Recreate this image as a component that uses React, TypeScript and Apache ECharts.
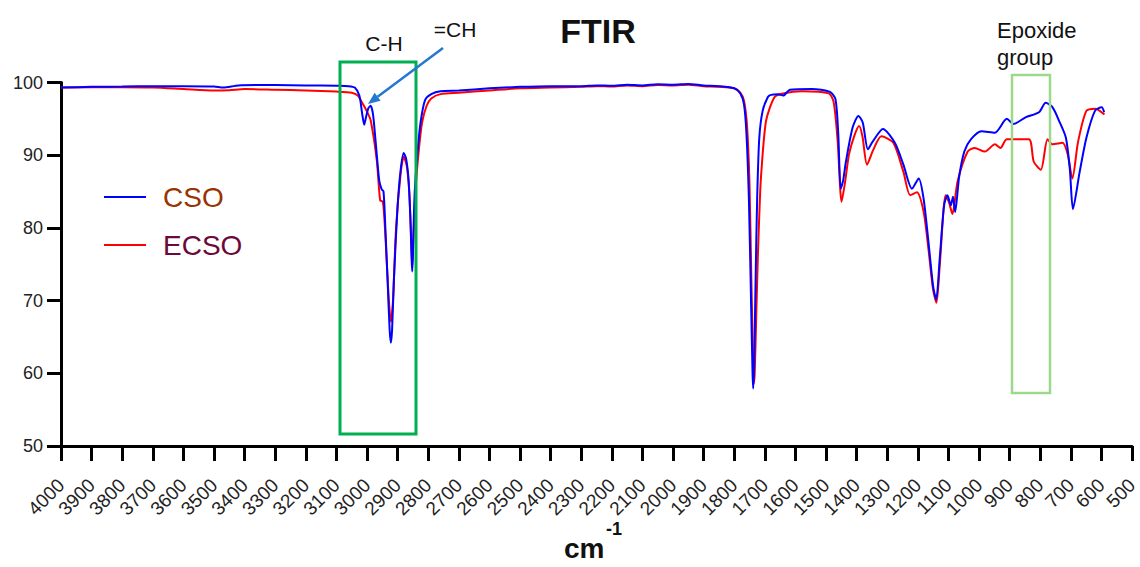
import React, { useEffect, useRef } from "react";
import * as echarts from "echarts";

// Wavenumbers (cm-1) and transmittance (%)
const CSO_WN = [
  4000, 3900, 3800, 3700, 3600, 3500, 3470, 3420, 3300, 3200, 3100, 3060, 3040, 3025, 3015, 3009, 3003, 2995, 2988,
  2980, 2970, 2960, 2952, 2946, 2940, 2932, 2926, 2922, 2918, 2912, 2900, 2890, 2880, 2872, 2864, 2858, 2854, 2852,
  2849, 2844, 2835, 2825, 2810, 2790, 2760, 2700, 2600, 2500, 2400, 2300, 2250, 2200, 2150, 2100, 2050, 2000, 1950,
  1900, 1850, 1800, 1780, 1768, 1760, 1752, 1745, 1740, 1738, 1735, 1730, 1725, 1718, 1707, 1690, 1680, 1657, 1640,
  1618, 1546, 1487, 1469, 1460, 1452, 1444, 1435, 1413, 1394, 1380, 1363, 1347, 1314, 1275, 1247, 1219, 1197, 1181,
  1165, 1150, 1140, 1128, 1114, 1103, 1092, 1085, 1078, 1065, 1048, 1026, 992, 948, 909, 887, 848, 804, 782, 760,
  738, 716, 703, 693, 671, 649, 621, 599, 591,
];
const CSO_T = [
  99.3, 99.4, 99.45, 99.5, 99.5, 99.45, 99.3, 99.6, 99.65, 99.6, 99.55, 99.5, 99.3, 98.2, 95.5, 94.2, 95.3, 96.5, 96.8,
  95.5, 91.0, 86.5, 85.3, 85.0, 80.0, 72.0, 66.0, 64.2, 66.0, 73.0, 83.0, 88.0, 90.3, 89.5, 86.5, 81.0, 75.5, 74.0,
  78.0, 85.0, 90.3, 94.5, 97.6, 98.4, 98.8, 98.9, 99.2, 99.4, 99.5, 99.5, 99.6, 99.55, 99.7, 99.6, 99.75, 99.7, 99.8,
  99.6, 99.5, 99.2, 98.5, 97.0, 93.0, 84.0, 70.0, 60.0, 57.9, 61.0, 73.0, 84.0, 92.4, 96.1, 98.0, 98.3, 98.4, 98.2,
  99.0, 99.1, 98.7, 97.7, 93.0, 85.4, 86.5, 89.1, 93.8, 95.4, 94.5, 90.8, 91.9, 93.6, 91.7, 88.7, 85.4, 86.8, 84.0,
  78.0, 72.0, 70.1, 76.0, 83.1, 84.5, 83.1, 84.3, 82.2, 87.0, 90.5, 92.2, 93.3, 93.1, 95.0, 94.3, 95.2, 95.9, 97.2, 96.6,
  94.7, 92.4, 88.0, 82.6, 87.7, 92.4, 96.1, 96.6, 95.9,
];

const ECSO_WN = [
  4000, 3800, 3700, 3600, 3500, 3450, 3400, 3300, 3200, 3100, 3050, 3030, 3013, 3000, 2988, 2968, 2957, 2948, 2940,
  2930, 2922, 2915, 2905, 2890, 2880, 2870, 2862, 2856, 2852, 2848, 2840, 2830, 2820, 2805, 2790, 2760, 2700, 2600,
  2500, 2400, 2300, 2250, 2200, 2150, 2100, 2050, 2000, 1950, 1900, 1850, 1800, 1780, 1768, 1758, 1750, 1744, 1739,
  1736, 1733, 1728, 1722, 1716, 1712, 1696, 1668, 1640, 1579, 1491, 1475, 1462, 1449, 1437, 1425, 1408, 1392, 1381,
  1366, 1346, 1319, 1280, 1247, 1225, 1203, 1181, 1165, 1150, 1139, 1128, 1109, 1098, 1087, 1070, 1037, 1014, 981,
  948, 930, 909, 837, 821, 798, 776, 760, 727, 710, 695, 676, 649, 620, 590,
];
const ECSO_T = [
  99.3, 99.35, 99.3, 99.1, 98.9, 98.95, 99.1, 99.0, 98.9, 98.75, 98.6, 98.2, 97.0, 96.0, 94.8, 89.3, 83.8, 83.6, 79.0,
  71.0, 67.1, 70.0, 80.0, 87.5, 89.8, 88.5, 85.0, 79.0, 74.5, 79.0, 86.0, 91.0, 94.5, 96.8, 97.8, 98.4, 98.6, 98.9,
  99.2, 99.3, 99.4, 99.5, 99.45, 99.6, 99.5, 99.65, 99.6, 99.7, 99.5, 99.4, 99.2, 98.6, 97.5, 94.0, 86.0, 73.0, 63.0,
  58.6, 60.0, 68.0, 77.0, 84.0, 87.3, 94.7, 98.0, 98.5, 98.8, 98.5, 97.3, 92.0, 83.6, 86.5, 90.1, 92.6, 94.0, 92.6,
  88.7, 90.7, 92.6, 91.7, 87.7, 84.5, 84.9, 82.2, 77.0, 71.5, 69.7, 75.0, 84.5, 83.5, 81.9, 86.4, 90.5, 91.0, 90.5,
  91.5, 91.0, 92.2, 92.2, 89.1, 88.0, 92.2, 91.5, 91.7, 90.1, 86.8, 91.9, 96.1, 96.4, 95.6,
];

const SERIES_NAMES = ["CSO", "ECSO"];
const LEGEND_TEXT_COLORS = ["#993300", "#6B0A3A"];
const X_MIN = 500;
const X_MAX = 4000;
const Y_MIN = 50;
const Y_MAX = 100;

export default function App() {
  const ref = useRef<HTMLDivElement>(null);
  useEffect(() => {
    if (!ref.current) return;
    const chart = echarts.init(ref.current, null, { renderer: "svg" });
    const font = "'Liberation Sans', Arial, sans-serif";
    const csoData = CSO_WN.map((w, i) => [w, CSO_T[i]]);
    const ecsoData = ECSO_WN.map((w, i) => [w, ECSO_T[i]]);

    const option: any = {
      animation: false,
      backgroundColor: "#ffffff",
      textStyle: { fontFamily: font },
      grid: { left: 61, right: 8, top: 82.5, bottom: 121, outerBoundsMode: "none" },
      legend: {
        orient: "vertical",
        left: 99,
        top: 178,
        itemWidth: 42,
        itemHeight: 2,
        itemGap: 20,
        icon: "rect",
        data: [
          { name: SERIES_NAMES[0], textStyle: { color: LEGEND_TEXT_COLORS[0] } },
          { name: SERIES_NAMES[1], textStyle: { color: LEGEND_TEXT_COLORS[1] } },
        ],
        textStyle: { fontSize: 28, fontFamily: font, padding: [0, 0, 0, 12] },
      },
      xAxis: {
        type: "value",
        inverse: true,
        min: X_MIN,
        max: X_MAX,
        interval: 100,
        splitLine: { show: false },
        axisLine: { lineStyle: { color: "#000", width: 3 } },
        axisTick: { length: 15, lineStyle: { color: "#000", width: 3 } },
        axisLabel: {
          rotate: 45,
          margin: 36,
          color: "#222",
          showMinLabel: true,
          showMaxLabel: true,
          hideOverlap: false,
          formatter: (v: number) => "{t|" + v + "}",
          rich: { t: { fontSize: 19, fontFamily: font, color: "#222" } },
        },
      },
      yAxis: {
        type: "value",
        min: Y_MIN,
        max: Y_MAX,
        interval: 10,
        splitLine: { show: false },
        axisLine: { show: true, lineStyle: { color: "#000", width: 3 } },
        axisTick: { show: true, length: 14, lineStyle: { color: "#000", width: 3 } },
        axisLabel: { margin: 18, fontSize: 18, color: "#222", fontFamily: font },
      },
      series: [
        {
          name: SERIES_NAMES[1],
          type: "line",
          data: ecsoData,
          showSymbol: false,
          smooth: 0.25,
          lineStyle: { color: "#FF0000", width: 2 },
          itemStyle: { color: "#FF0000" },
        },
        {
          name: SERIES_NAMES[0],
          type: "line",
          data: csoData,
          showSymbol: false,
          smooth: 0.25,
          lineStyle: { color: "#0000FF", width: 2 },
          itemStyle: { color: "#0000FF" },
        },
      ],
      graphic: [
        {
          type: "text",
          x: 598,
          y: 31,
          style: {
            text: "FTIR",
            fontSize: 34,
            fontWeight: "bold",
            fill: "#111",
            fontFamily: font,
            align: "center",
            verticalAlign: "middle",
          },
          z: 10,
        },
        {
          type: "text",
          x: 564,
          y: 534,
          style: { text: "cm", fontSize: 28, fontWeight: "bold", fill: "#111", fontFamily: font },
        },
        {
          type: "text",
          x: 606,
          y: 520,
          style: { text: "-1", fontSize: 18, fontWeight: "bold", fill: "#111", fontFamily: font },
        },
        {
          type: "rect",
          shape: { x: 340, y: 62, width: 76, height: 372 },
          style: { fill: "none", stroke: "#00B050", lineWidth: 3 },
          z: 5,
        },
        {
          type: "rect",
          shape: { x: 1012, y: 75, width: 38, height: 318 },
          style: { fill: "none", stroke: "#9BD98C", lineWidth: 2.5 },
          z: 5,
        },
        {
          type: "text",
          x: 384,
          y: 43,
          style: { text: "C-H", fontSize: 21, fill: "#111", fontFamily: font, align: "center", verticalAlign: "middle" },
        },
        {
          type: "text",
          x: 455,
          y: 29,
          style: { text: "=CH", fontSize: 21, fill: "#111", fontFamily: font, align: "center", verticalAlign: "middle" },
        },
        {
          type: "text",
          x: 997,
          y: 17,
          style: { text: "Epoxide\ngroup", fontSize: 22, lineHeight: 27, fill: "#111", fontFamily: font },
        },
        {
          type: "line",
          shape: { x1: 443, y1: 48, x2: 377.6, y2: 96.8 },
          style: { stroke: "#2478CF", lineWidth: 2.5 },
          z: 6,
        },
        {
          type: "polygon",
          shape: { points: [[368, 104], [380.6, 100.8], [374.6, 92.8]] },
          style: { fill: "#2478CF" },
          z: 6,
        },
      ],
    };
    chart.setOption(option);
    return () => chart.dispose();
  }, []);
  return <div ref={ref} style={{ position: "absolute", left: 0, top: 0, width: 1140, height: 567 }} />;
}
